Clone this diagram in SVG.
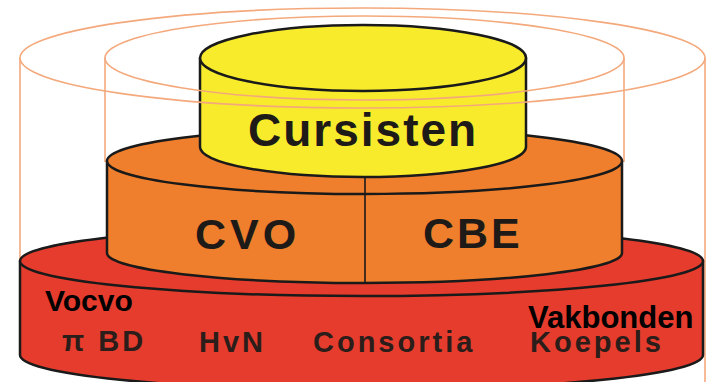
<svg xmlns="http://www.w3.org/2000/svg" width="706" height="382" viewBox="0 0 706 382">
<style>
.thin{fill:none;stroke:#f4a97c;stroke-width:1.6}
.edge{stroke:#1a1a1a;stroke-width:2.5;stroke-linejoin:round}
.red{fill:#e53c2d}
.org{fill:#ef7f2c}
.yel{fill:#f7eb2c}
.big{font-family:"Liberation Sans",Arial,sans-serif;font-weight:bold;fill:#1e1a18}
.lbl{font-family:"Liberation Sans",Arial,sans-serif;font-weight:bold;font-size:29px;letter-spacing:3px;fill:#2a1d1a}
.blk{font-family:"Liberation Sans",Arial,sans-serif;font-weight:bold;fill:#000}
</style>
<rect width="706" height="382" fill="#fff"/>
<g id="outer-ring-sides">
<line class="thin" x1="20" y1="58" x2="20" y2="262"/>
<line class="thin" x1="705" y1="58" x2="705" y2="382"/>
<line class="thin" x1="105" y1="58" x2="105" y2="162"/>
<line class="thin" x1="624" y1="58" x2="624" y2="162"/>
</g>
<g id="layer-red">
<path class="red edge" d="M20,261 L20,355 A341.5,35 0 0 0 703,355 L703,261 Z"/>
<ellipse class="red edge" cx="361.5" cy="261" rx="341.5" ry="35"/>
<text class="blk" x="45" y="311" font-size="30">Vocvo</text>
<text class="lbl" x="62" y="351">π BD</text>
<text class="lbl" x="199" y="352">HvN</text>
<text class="lbl" x="313" y="352">Consortia</text>
<text class="lbl" x="530" y="352">Koepels</text>
<text class="blk" x="528" y="328" font-size="31">Vakbonden</text>
</g>
<g id="layer-orange">
<path class="org edge" d="M107,161 L107,253 A257.5,30 0 0 0 622,253 L622,161 Z"/>
<ellipse class="org edge" cx="364.5" cy="161" rx="257.5" ry="33"/>
<line class="edge" x1="365" y1="176" x2="365" y2="283" style="stroke-width:1.6"/>
<text class="big" x="195" y="249" font-size="43" letter-spacing="4">CVO</text>
<text class="big" x="423" y="248" font-size="43" letter-spacing="3">CBE</text>
</g>
<g id="layer-yellow">
<path class="yel edge" d="M200,58 L200,147 A163,30 0 0 0 526,147 L526,58 Z"/>
<ellipse class="yel edge" cx="363" cy="58" rx="163" ry="33"/>
<text class="big" x="248" y="146" font-size="46" letter-spacing="2">Cursisten</text>
</g>
<g id="outer-rings">
<ellipse class="thin" cx="362.5" cy="58" rx="342.5" ry="50"/>
<ellipse class="thin" cx="364.5" cy="58" rx="259.5" ry="42"/>
</g>
</svg>
